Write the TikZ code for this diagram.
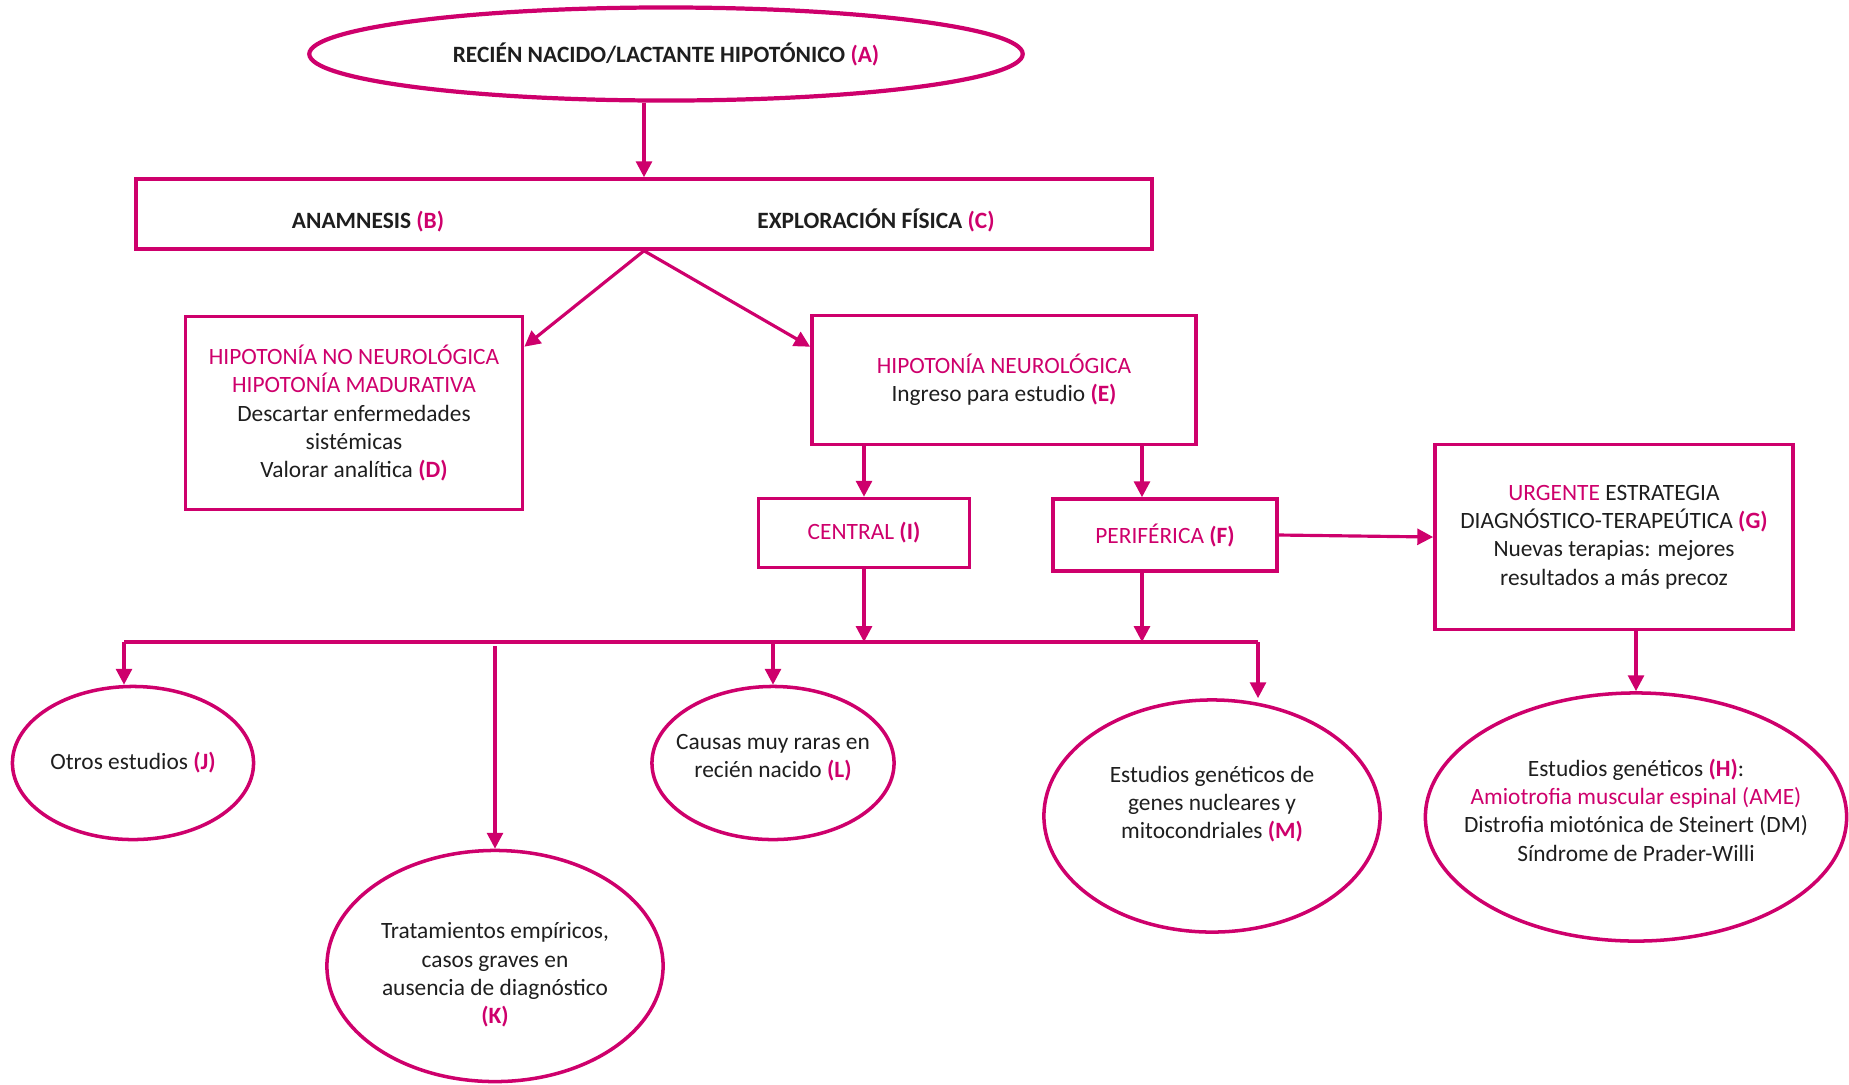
\documentclass[tikz,border=0pt]{standalone}
\usepackage{fontspec}
\setmainfont{Carlito}
\usepackage{xcolor}
\usepackage{tikz}
\usetikzlibrary{arrows.meta}
\usetikzlibrary{shapes.geometric}

\definecolor{rosa}{RGB}{206,0,108}
\definecolor{texto}{RGB}{30,30,30}
\newcommand{\etq}[1]{\textcolor{rosa}{\textbf{#1}}}

\begin{document}
\begin{tikzpicture}[x=0.01cm, y=-0.01cm,
  caja/.style={rectangle, draw=rosa, line width=1pt, align=center, inner sep=2pt},
  elipse/.style={ellipse, draw=rosa, line width=1pt, inner sep=0pt},
  flecha/.style={-{Triangle[length=4.5pt, width=4.5pt]}, draw=rosa, line width=0.9pt},
  every node/.style={font=\fontsize{6.65}{8.05}\selectfont, text=texto},
  every label/.style={align=center}]

\useasboundingbox (0,0) rectangle (1849,1084) ;

% Nodes
\node[elipse, minimum width=7.13cm, minimum height=0.93cm, line width=1.2pt] at (666, 54) (a) {\textbf{RECIÉN NACIDO/LACTANTE HIPOTÓNICO} \etq{(A)}} ;
\node[caja, minimum width=10.15cm, minimum height=0.70cm] at (644, 214) (bc) {} ;
\node[anchor=base] at (368, 228) (b) {\textbf{ANAMNESIS} \etq{(B)}} ;
\node[anchor=base] at (876, 228) (c) {\textbf{EXPLORACIÓN FÍSICA} \etq{(C)}} ;
\node[caja, minimum width=3.37cm, minimum height=1.93cm] at (354, 413) (d) {\textcolor{rosa}{HIPOTONÍA NO NEUROLÓGICA}\\ \textcolor{rosa}{HIPOTONÍA MADURATIVA}\\ Descartar enfermedades\\ sistémicas\\ Valorar analítica \etq{(D)}} ;
\node[caja, minimum width=3.84cm, minimum height=1.29cm] at (1004, 380) (e) {\textcolor{rosa}{HIPOTONÍA NEUROLÓGICA}\\ Ingreso para estudio \etq{(E)}} ;
\node[caja, minimum width=2.11cm, minimum height=0.69cm, text=rosa] at (864, 533) (i) {CENTRAL \textbf{(I)}} ;
\node[caja, minimum width=2.24cm, minimum height=0.72cm, text=rosa] at (1165, 535) (f) {PERIFÉRICA \textbf{(F)}} ;
\node[caja, minimum width=3.58cm, minimum height=1.85cm] at (1614, 537) (g) {\textcolor{rosa}{URGENTE} ESTRATEGIA\\ DIAGNÓSTICO-TERAPEÚTICA \etq{(G)}\\ Nuevas terapias: mejores\\ resultados a más precoz} ;
\node[elipse, minimum width=4.21cm, minimum height=2.48cm,
  label={[yshift=0.07cm]center:Estudios genéticos \etq{(H)}:\\ \textcolor{rosa}{Amiotrofia muscular espinal (AME)}\\ Distrofia miotónica de Steinert (DM)\\ Síndrome de Prader-Willi}] at (1636, 817) (h) {} ;
\node[elipse, minimum width=2.41cm, minimum height=1.53cm,
  label={center:Otros estudios \etq{(J)}}] at (133, 763) (j) {} ;
\node[elipse, minimum width=3.36cm, minimum height=2.31cm,
  label={[yshift=-0.09cm]center:Tratamientos empíricos,\\ casos graves en\\ ausencia de diagnóstico\\ \etq{(K)}}] at (495, 966) (k) {} ;
\node[elipse, minimum width=2.42cm, minimum height=1.53cm,
  label={[yshift=0.05cm]center:Causas muy raras en\\ recién nacido \etq{(L)}}] at (773, 763) (l) {} ;
\node[elipse, minimum width=3.36cm, minimum height=2.32cm,
  label={[yshift=0.12cm]center:Estudios genéticos de\\ genes nucleares y\\ mitocondriales \etq{(M)}}] at (1212, 816) (m) {} ;

\coordinate (izq) at (124, 642) ;
\coordinate (der) at (1258, 642) ;
\coordinate (fx) at ([xshift=-0.23cm]f.north) ;

% Lines
\draw[flecha] (a.south -| bc.north) -- (bc.north) ;
\draw[flecha] (bc.south) -- ([yshift=-0.32cm]d.north east) ;
\draw[flecha] (bc.south) -- ([yshift=-0.33cm]e.north west) ;
\draw[flecha] (e.south -| i.north) -- (i.north) ;
\draw[flecha] (fx |- e.south) -- (fx) ;
\draw[flecha] (f.east) -- (g.west) ;
\draw[flecha] (g.south -| h.north) -- (h.north) ;
\draw[flecha] (i.south) -- (i.south |- izq) ;
\draw[flecha] (f.south -| fx) -- (fx |- izq) ;
\draw[rosa, line width=1pt] (izq) -- (der) ;
\draw[flecha] (izq) -- (izq |- j.north) ;
\draw[flecha] ([yshift=-0.04cm]k.north |- izq) -- (k.north) ;
\draw[flecha] (l.north |- izq) -- (l.north) ;
\draw[flecha] (der) -- (der |- m.north) ;

\end{tikzpicture}
\end{document}
